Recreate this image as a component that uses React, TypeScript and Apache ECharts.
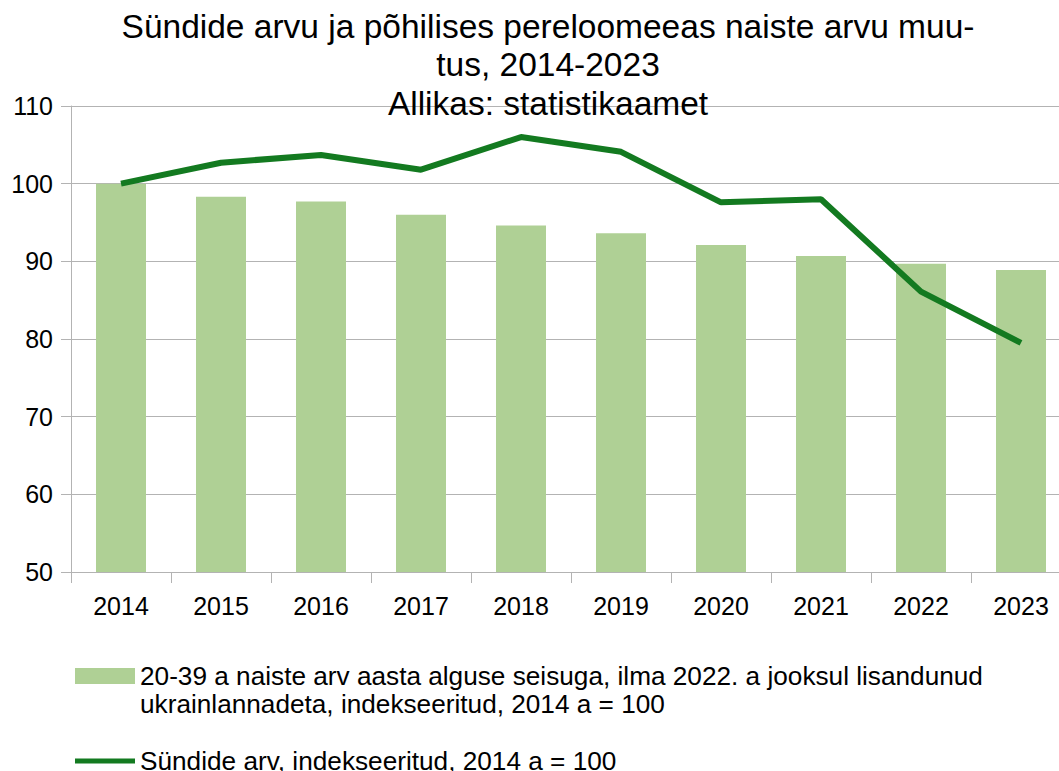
import React, { useEffect, useRef } from "react";
import * as echarts from "echarts";

const years = ["2014", "2015", "2016", "2017", "2018", "2019", "2020", "2021", "2022", "2023"];
const womenIndex = [100, 98.3, 97.7, 96.0, 94.6, 93.6, 92.1, 90.7, 89.7, 88.9];
const birthsIndex = [100, 102.7, 103.7, 101.8, 106.0, 104.1, 97.6, 98.0, 86.1, 79.5];

const womenName =
  "20-39 a naiste arv aasta alguse seisuga, ilma 2022. a jooksul lisandunud\nukrainlannadeta, indekseeritud, 2014 a = 100";
const birthsName = "Sündide arv, indekseeritud, 2014 a = 100";
const titleText =
  "Sündide arvu ja põhilises pereloomeeas naiste arvu muu-\ntus, 2014-2023\nAllikas: statistikaamet";

const FONT = "Liberation Sans";

export default function App() {
  const ref = useRef<HTMLDivElement>(null);
  useEffect(() => {
    if (!ref.current) return;
    const chart = echarts.init(ref.current, undefined, { renderer: "svg" });
    chart.setOption({
      animation: false,
      backgroundColor: "#ffffff",
      textStyle: { fontFamily: FONT },
      title: {
        text: titleText,
        left: 548,
        top: 7,
        padding: 0,
        textAlign: "center",
        textStyle: {
          fontFamily: FONT,
          fontSize: 33.5,
          fontWeight: "normal",
          lineHeight: 38.5,
          color: "#000",
        },
      },
      legend: [
        {
          data: [{ name: womenName, icon: "rect" }],
          formatter: (n: string) => "\n" + n,
          left: 75,
          top: 634,
          padding: 0,
          itemWidth: 60,
          itemHeight: 16,
          itemGap: 0,
          orient: "vertical",
          selectedMode: false,
          textStyle: {
            fontFamily: FONT,
            fontSize: 26.2,
            lineHeight: 28,
            color: "#000",
          },
        },
        {
          data: [{ name: birthsName, icon: "rect" }],
          left: 75,
          top: 747,
          padding: 0,
          itemWidth: 60,
          itemHeight: 5,
          selectedMode: false,
          textStyle: {
            fontFamily: FONT,
            fontSize: 26.2,
            lineHeight: 28,
            color: "#000",
          },
        },
      ],
      grid: {
        left: 71,
        width: 1000,
        top: 106,
        height: 466,
        containLabel: false,
        outerBoundsMode: "none",
      },
      xAxis: {
        type: "category",
        data: years,
        boundaryGap: true,
        axisLine: { show: true, lineStyle: { color: "#b3b3b3", width: 1 } },
        axisTick: { show: true, length: 11, lineStyle: { color: "#b3b3b3" } },
        axisLabel: { fontFamily: FONT, fontSize: 25, color: "#000", margin: 21 },
        splitLine: { show: false },
      },
      yAxis: {
        type: "value",
        min: 50,
        max: 110,
        interval: 10,
        axisLine: { show: true, lineStyle: { color: "#b3b3b3", width: 1 } },
        axisTick: { show: true, length: 10, lineStyle: { color: "#b3b3b3" } },
        axisLabel: { fontFamily: FONT, fontSize: 25, color: "#000", margin: 18 },
        splitLine: { show: true, lineStyle: { color: "#b3b3b3", width: 1 } },
      },
      series: [
        {
          name: womenName,
          type: "bar",
          data: womenIndex,
          barWidth: 50,
          itemStyle: { color: "#afd095" },
          z: 2,
        },
        {
          name: birthsName,
          type: "line",
          data: birthsIndex,
          showSymbol: false,
          symbol: "none",
          lineStyle: { color: "#137a20", width: 6 },
          itemStyle: { color: "#137a20" },
          z: 3,
        },
      ],
    });
    return () => chart.dispose();
  }, []);
  return (
    <div
      ref={ref}
      style={{ position: "absolute", left: 0, top: 0, width: 1059, height: 771 }}
    />
  );
}
